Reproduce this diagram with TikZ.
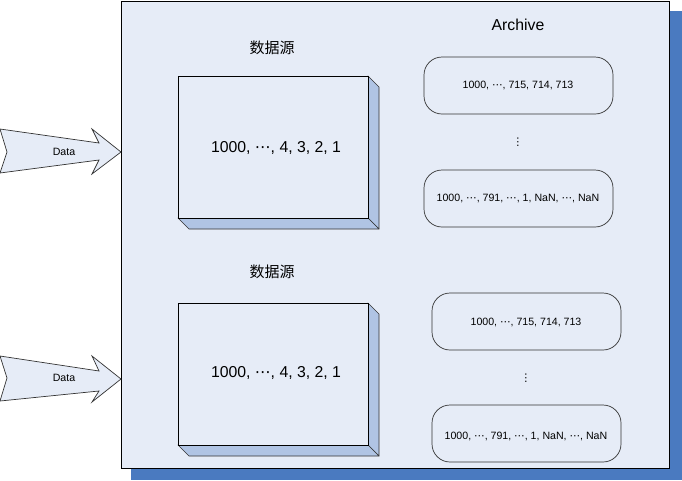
\documentclass[tikz,border=0pt]{standalone}
\usepackage{fontspec}
\setmainfont{Liberation Sans}
\newfontfamily\cjkfont{Noto Sans CJK SC}
\newfontfamily\dvfont{DejaVu Sans}
\newcommand{\hdots}{{\dvfont ⋯}}
\newcommand{\vdotsym}{{\dvfont ⋮}}
\definecolor{panel}{HTML}{E6ECF7}
\definecolor{shadowblue}{HTML}{4A7AC0}
\definecolor{sideblue}{HTML}{B0C4E4}
\definecolor{edge}{HTML}{333333}
\tikzset{
  panelbox/.style={fill=panel,draw=black,line width=0.8pt},
  shadowbox/.style={fill=shadowblue,draw=none},
  front/.style={fill=panel,draw=black,line width=0.8pt},
  sideface/.style={fill=sideblue,draw=edge,line width=0.6pt,line join=round},
  arrowshape/.style={fill=panel,draw=edge,line width=0.7pt,line join=miter},
  archbox/.style={draw=edge,line width=0.7pt,rounded corners=18pt},
  smalltxt/.style={font=\fontsize{10.6}{12}\selectfont,inner sep=0pt},
  bigtxt/.style={font=\fontsize{15.8}{18}\selectfont,inner sep=0pt},
  cjktxt/.style={font=\cjkfont\fontsize{15}{18}\selectfont,inner sep=0pt},
}
\begin{document}
\begin{tikzpicture}[x=1pt,y=-1pt]
\useasboundingbox (0,0) rectangle (682,480);
% shadow and panel
\path[shadowbox] (131,11) rectangle (682,480);
\path[panelbox] (121,1) rectangle (669,468);
% arrows
\path[arrowshape] (0,129) -- (99,143) -- (92,129) -- (121,152) -- (92,174) -- (99,160) -- (0,173) -- (7,152) -- cycle;
\node[smalltxt] (data1) at (64,152) {Data};
\path[arrowshape] (0,356) -- (99,371) -- (92,356) -- (121,379) -- (92,402) -- (99,391) -- (0,401) -- (7,378) -- cycle;
\node[smalltxt] (data2) at (64,378) {Data};
% upper data source box
\path[sideface] (368,76) -- (379,87) -- (379,229) -- (368,218) -- cycle;
\path[sideface] (178,218) -- (368,218) -- (379,229) -- (189,229) -- cycle;
\path[front] (178,76) rectangle (368,218);
\node[bigtxt] (src1) at (276,148) {1000, \hdots, 4, 3, 2, 1};
\node[cjktxt] (lab1) at (272,48) {数据源};
% lower data source box
\path[sideface] (368,303) -- (379,314) -- (379,456) -- (368,445) -- cycle;
\path[sideface] (178,445) -- (368,445) -- (379,456) -- (189,456) -- cycle;
\path[front] (178,303) rectangle (368,445);
\node[bigtxt] (src2) at (276,373) {1000, \hdots, 4, 3, 2, 1};
\node[cjktxt] (lab2) at (272,272) {数据源};
% archive
\node[bigtxt] (arch) at (518,25) {Archive};
\draw[archbox] (424,57) rectangle (613,114);
\node[smalltxt] (a1) at (518,85) {1000, \hdots, 715, 714, 713};
\node[smalltxt] (d1) at (518,142) {\vdotsym};
\draw[archbox] (424,170) rectangle (613,227);
\node[smalltxt] (a2) at (518,198) {1000, \hdots, 791, \hdots, 1, NaN, \hdots, NaN};
\draw[archbox] (432,293) rectangle (621,350);
\node[smalltxt] (a3) at (526,322) {1000, \hdots, 715, 714, 713};
\node[smalltxt] (d2) at (526,378) {\vdotsym};
\draw[archbox] (432,405) rectangle (621,462);
\node[smalltxt] (a4) at (526,436) {1000, \hdots, 791, \hdots, 1, NaN, \hdots, NaN};
\end{tikzpicture}
\end{document}
